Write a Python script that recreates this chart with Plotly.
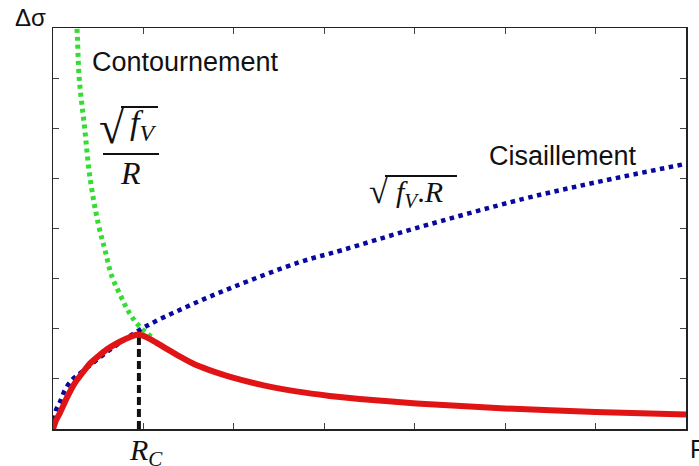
import plotly.graph_objects as go

# ---- data ----
R_blue = [0, 0.03, 0.077, 0.133, 0.21, 0.32, 0.63, 1.00, 1.48, 1.99, 2.73, 3.20, 4.00, 5.20, 6.00, 7.00]
S_blue = [0, 0.36, 0.54, 0.78, 0.98, 1.14, 1.58, 2.02, 2.44, 2.83, 3.33, 3.57, 4.00, 4.59, 4.92, 5.29]

R_green = [0.25, 0.265, 0.29, 0.35, 0.41, 0.50, 0.575, 0.65, 0.75, 0.85, 0.97, 1.12]
S_green = [8.3, 8.0, 7.0, 6.0, 5.0, 4.1, 3.57, 3.05, 2.65, 2.30, 2.02, 1.80]

R_red = [0, 0.03, 0.077, 0.15, 0.243, 0.41, 0.59, 0.75, 0.86, 0.925, 1.0, 1.10, 1.22, 1.40, 1.59, 1.77,
         1.96, 2.33, 2.69, 3.06, 3.39, 4.02, 5.0, 6.0, 7.0]
S_red = [0, 0.16, 0.32, 0.61, 0.92, 1.31, 1.58, 1.75, 1.84, 1.88, 1.86, 1.77, 1.64, 1.45, 1.27, 1.15,
         1.04, 0.87, 0.75, 0.66, 0.60, 0.51, 0.41, 0.34, 0.29]

R_c = [0.95, 0.95]
S_c = [0.0, 1.86]

x_ticks = [0, 1, 2, 3, 4, 5, 6, 7]
y_ticks = [0, 1, 2, 3, 4, 5, 6, 7, 8]

W, H = 699, 466
L, R, T, B = 53, 13, 28, 37
pw, ph = W - L - R, H - T - B


def px(x):
    return (x - L) / pw


def py(y):
    return (H - B - y) / ph


fig = go.Figure()
fig.add_trace(go.Scatter(x=R_green, y=S_green, mode="lines",
                         line=dict(color="#33dd33", width=5, dash="4px,4px", shape="spline"),
                         hoverinfo="skip"))
fig.add_trace(go.Scatter(x=R_blue, y=S_blue, mode="lines",
                         line=dict(color="#0808a0", width=4.5, dash="4.5px,4.5px", shape="spline"),
                         hoverinfo="skip"))
fig.add_trace(go.Scatter(x=R_c, y=S_c, mode="lines",
                         line=dict(color="#111111", width=4, dash="8px,4px"),
                         hoverinfo="skip"))
fig.add_trace(go.Scatter(x=R_red, y=S_red, mode="lines",
                         line=dict(color="#e01414", width=6, shape="spline", smoothing=0.4),
                         hoverinfo="skip"))

sans = "Liberation Sans, Arial, sans-serif"
serif = "Liberation Serif, Times New Roman, serif"


def label(text, x, y, size, family, xanchor="center"):
    return dict(text=text, x=px(x), y=py(y), xref="paper", yref="paper",
                xanchor=xanchor, yanchor="middle", showarrow=False,
                font=dict(family=family, size=size, color="#111"))


ann = [
    label("Δσ", 30, 17, 24, sans),
    label("R", 688, 449, 25, sans, "left"),
    label("Contournement", 90, 62, 27, sans, "left"),
    label("Cisaillement", 487, 156, 27, sans, "left"),
    # sqrt(fV) / R
    label("√", 112, 127, 46, serif),
    label("<i>f</i><sub><i>V</i></sub>", 143, 125, 34, serif),
    label("<i>R</i>", 130, 173, 32, serif),
    # sqrt(fV.R)
    label("√", 379, 192, 35, serif),
    label("<i>f</i><sub><i>V</i></sub>.<i>R</i>", 419, 194, 30, serif),
    # R_C
    label("<i>R</i><sub><i>C</i></sub>", 127, 452, 30, serif, "left"),
]

shapes = [
    dict(type="line", xref="paper", yref="paper", x0=px(121), x1=px(158), y0=py(107), y1=py(107),
         line=dict(color="#111", width=2), layer="above"),
    dict(type="line", xref="paper", yref="paper", x0=px(103), x1=px(159), y0=py(154), y1=py(154),
         line=dict(color="#111", width=2), layer="above"),
    dict(type="line", xref="paper", yref="paper", x0=px(385), x1=px(457), y0=py(176), y1=py(176),
         line=dict(color="#111", width=2), layer="above"),
]

axis_common = dict(showline=True, linecolor="#222", linewidth=1.5, mirror="ticks",
                   ticks="inside", ticklen=6, tickcolor="#444", tickwidth=1,
                   showticklabels=False, showgrid=False, zeroline=False, fixedrange=True)

fig.update_layout(
    width=W, height=H,
    margin=dict(l=L, r=R, t=T, b=B),
    paper_bgcolor="white", plot_bgcolor="white",
    showlegend=False,
    xaxis=dict(range=[0, 7], tickvals=x_ticks, **axis_common),
    yaxis=dict(range=[0, 8], tickvals=y_ticks, **axis_common),
    annotations=ann, shapes=shapes,
)

fig.write_html("out.html", config={"staticPlot": True},
               post_script="document.body.style.margin='0px';document.body.style.overflow='hidden';")
